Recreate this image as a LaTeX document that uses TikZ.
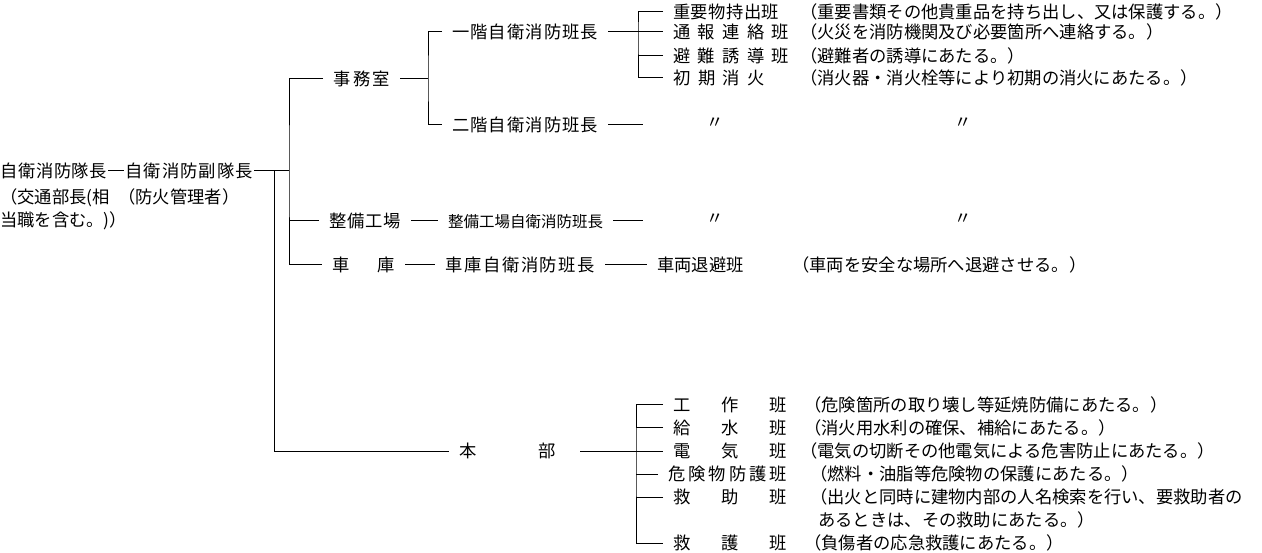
\documentclass[tikz,border=0pt]{standalone}
\usepackage{fontspec}
\setmainfont{Noto Sans CJK JP}
\newcommand{\kinto}[2]{\makebox[#1][s]{\spaceskip=0pt plus 1fil\relax #2}}
\tikzstyle{lbl} = [anchor=west, inner xsep=10pt, inner ysep=0pt, text height=14.5pt, text depth=2pt]
\tikzstyle{setsumei} = [lbl, inner xsep=0pt]
\tikzstyle{link} = [line width=1pt]

\begin{document}
\begin{tikzpicture}[x=1pt, y=-1pt, font=\fontsize{17.3}{21}\selectfont]
    \useasboundingbox (0,0) rectangle (1262,553);
    % taicho
    \node (taicho) [lbl, inner xsep=1pt] at (-1,171) {\kinto{107pt}{自 衛 消 防 隊 長}};
    \node (fuku) [lbl, inner xsep=1pt] at (124,171) {\kinto{128pt}{自 衛 消 防 副 隊 長}};
    \node (kakko1) [setsumei] at (0,197) {（交通部長(相};
    \node (kakko2) [setsumei] at (0,220) {当職を含む。)）};
    \node (kakko3) [setsumei] at (118,197) {（防火管理者）};
    \coordinate (j1) at (289,171);
    \coordinate (j2) at (274,171);
    % jimushitsu
    \node (jimu) [lbl] at (323,79) {\kinto{57pt}{事 務 室}};
    \coordinate (j3) at (428,79);
    \node (ikkai) [lbl] at (442,32) {\kinto{146pt}{一 階 自 衛 消 防 班 長}};
    \node (nikai) [lbl] at (442,125) {\kinto{146pt}{二 階 自 衛 消 防 班 長}};
    \coordinate (nikai-e) at (643,125);
    \coordinate (j4) at (638,32);
    \node (jyuyo) [lbl] at (663,12) {\kinto{106pt}{重 要 物 持 出 班}};
    \node (tsuho) [lbl] at (663,32) {\kinto{116pt}{通 報 連 絡 班}};
    \node (hinan) [lbl] at (663,56) {\kinto{116pt}{避 難 誘 導 班}};
    \node (shoki) [lbl] at (663,78) {\kinto{92pt}{初 期 消 火}};
    \node (d-jyuyo) [setsumei] at (800,12) {（重要書類その他貴重品を持ち出し、又は保護する。）};
    \node (d-tsuho) [setsumei] at (800,32) {（火災を消防機関及び必要箇所へ連絡する。）};
    \node (d-hinan) [setsumei] at (800,56) {（避難者の誘導にあたる。）};
    \node (d-shoki) [setsumei] at (800,78) {（消火器・消火栓等により初期の消火にあたる。）};
    \node (dit1) [setsumei, anchor=center] at (715,122) {〃};
    \node (dit2) [setsumei, anchor=center] at (963,122) {〃};
    % seibi kojo, shako
    \node (seibi) [lbl] at (319,221) {\kinto{72pt}{整 備 工 場}};
    \node (seibihan) [lbl, font=\fontsize{15.5}{18}\selectfont] at (438,221) {整備工場自衛消防班長};
    \coordinate (seibi-e) at (643,221);
    \node (dit3) [setsumei, anchor=center] at (715,218) {〃};
    \node (dit4) [setsumei, anchor=center] at (963,218) {〃};
    \node (shako) [lbl] at (322,265) {\kinto{63pt}{車 庫}};
    \node (shakohan) [lbl] at (435,265) {\kinto{150pt}{車 庫 自 衛 消 防 班 長}};
    \node (taihi) [lbl] at (647,265) {車両退避班};
    \node (d-taihi) [setsumei] at (792,265) {（車両を安全な場所へ退避させる。）};
    % honbu
    \node (honbu) [lbl] at (449,451) {\kinto{97pt}{本 部}};
    \coordinate (j5) at (636,451);
    \node (kosaku) [lbl] at (663,405) {\kinto{114pt}{工 作 班}};
    \node (kyusui) [lbl] at (663,428) {\kinto{114pt}{給 水 班}};
    \node (denki) [lbl] at (663,451) {\kinto{114pt}{電 気 班}};
    \node (kiken) [lbl] at (658,474) {\kinto{119pt}{危 険 物 防 護 班}};
    \node (kyujo) [lbl] at (663,497) {\kinto{114pt}{救 助 班}};
    \node (kyugo) [lbl] at (663,543) {\kinto{114pt}{救 護 班}};
    \node (d-kosaku) [setsumei] at (804,405) {（危険箇所の取り壊し等延焼防備にあたる。）};
    \node (d-kyusui) [setsumei] at (804,428) {（消火用水利の確保、補給にあたる。）};
    \node (d-denki) [setsumei] at (800,451) {（電気の切断その他電気による危害防止にあたる。）};
    \node (d-kiken) [setsumei] at (810,474) {（燃料・油脂等危険物の保護にあたる。）};
    \node (d-kyujo) [setsumei] at (810,497) {（出火と同時に建物内部の人名検索を行い、要救助者の};
    \node (d-kyujo2) [setsumei] at (818,520) {あるときは、その救助にあたる。）};
    \node (d-kyugo) [setsumei] at (804,543) {（負傷者の応急救護にあたる。）};
    \draw [link] (taicho.east) -- (fuku.west);
    \draw [link] (fuku.east) -- (j1);
    \draw [link] (jimu.west) -| (j1) |- (shako.west);
    \draw [link] (seibi.west) -- (seibi.west -| j1);
    \draw [link] (j2) |- (honbu.west);
    \draw [link] (jimu.east) -- (j3);
    \draw [link] (ikkai.west) -| (j3) |- (nikai.west);
    \draw [link] (ikkai.east) -- (tsuho.west);
    \draw [link] (jyuyo.west) -| (j4) |- (shoki.west);
    \draw [link] (hinan.west) -- (hinan.west -| j4);
    \draw [link] (nikai.east) -- (nikai-e);
    \draw [link] (seibi.east) -- (seibihan.west);
    \draw [link] (seibihan.east) -- (seibi-e);
    \draw [link] (shako.east) -- (shakohan.west);
    \draw [link] (shakohan.east) -- (taihi.west);
    \draw [link] ([xshift=14pt]honbu.east) -- (denki.west);
    \draw [link] (kosaku.west) -| (j5) |- (kyugo.west);
    \foreach \n in {kyusui, kiken, kyujo}
        \draw [link] (\n.west) -- (\n.west -| j5);
\end{tikzpicture}
\end{document}
